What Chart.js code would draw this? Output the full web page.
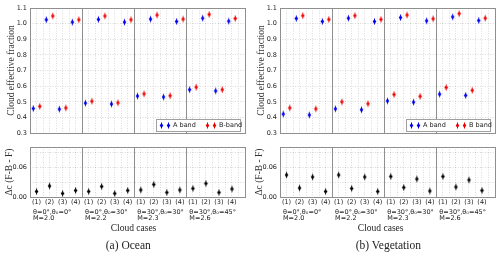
<!DOCTYPE html>
<html><head><meta charset="utf-8">
<script src="https://cdn.jsdelivr.net/npm/chart.js@4"></script>
<style>
html,body{margin:0;padding:0;background:#fff;width:500px;height:258px;overflow:hidden}
.panel{position:absolute;top:0;width:250px;height:258px}
.panel canvas{position:absolute;left:0}
.lbl{position:absolute;font-family:'Liberation Serif',serif;color:#222;white-space:nowrap;transform:translate(-50%,-50%);line-height:1}
</style></head><body>
<div class="panel" id="pa" style="left:0"><canvas id="ta" width="250" height="140" style="top:0"></canvas><canvas id="ba" width="250" height="90" style="top:140px"></canvas></div>
<div class="panel" id="pb" style="left:250px"><canvas id="tb" width="250" height="140" style="top:0"></canvas><canvas id="bb" width="250" height="90" style="top:140px"></canvas></div>
<script>
// ---------- data ----------
const caseLabels = ['(1)','(2)','(3)','(4)'];
const groupAngles = ['θ=0°,θ₀=0°','θ=0°,θ₀=30°','θ=30°,θ₀=30°','θ=30°,θ₀=45°'];
const groupM = ['M=2.0','M=2.2','M=2.3','M=2.6'];
const oceanNames = ['A band','B-band'];
const vegNames = ['A band','B band'];
const oceanA = [0.457,1.025,0.453,1.010, 0.492,1.027,0.486,1.010, 0.537,1.029,0.531,1.014, 0.578,1.035,0.570,1.016];
const oceanB = [0.471,1.049,0.461,1.025, 0.504,1.049,0.494,1.025, 0.551,1.055,0.539,1.029, 0.594,1.059,0.578,1.033];
const oceanDiff = [0.011,0.022,0.007,0.013, 0.011,0.021,0.007,0.013, 0.014,0.025,0.009,0.014, 0.017,0.027,0.009,0.016];
const vegA = [0.422,1.033,0.416,1.014, 0.455,1.035,0.449,1.014, 0.506,1.039,0.498,1.018, 0.549,1.043,0.541,1.020];
const vegB = [0.461,1.051,0.455,1.027, 0.500,1.051,0.488,1.027, 0.547,1.055,0.535,1.031, 0.592,1.064,0.574,1.035];
const vegDiff = [0.044,0.018,0.040,0.011, 0.044,0.017,0.040,0.011, 0.041,0.019,0.036,0.012, 0.041,0.020,0.034,0.013];
const topRange = [0.3, 1.1];
const diffRange = [0, 0.1];
const diffLabelMax = 0.08;

// ---------- styling helpers ----------
const nGroups = groupAngles.length, perGroup = caseLabels.length, nCases = nGroups*perGroup;
const SANS = '"DejaVu Sans", sans-serif', SERIF = '"Liberation Serif", serif';
const FRAME = '#8f8f8f', GRID = 'rgba(0,0,0,0.14)';
function marker(color){
  const c = document.createElement('canvas'); c.width = 7; c.height = 11;
  const g = c.getContext('2d');
  g.strokeStyle = color; g.lineWidth = 1;
  g.beginPath(); g.moveTo(3.5, 2.5); g.lineTo(3.5, 8.5); g.stroke();
  g.fillStyle = color; g.beginPath();
  g.moveTo(3.5, 3); g.lineTo(5.3, 5.5); g.lineTo(3.5, 8); g.lineTo(1.7, 5.5); g.closePath(); g.fill();
  return c;
}
const mBlue = marker('#0000ee'), mRed = marker('#ee0000'), mBlack = marker('#000000');

const framePlugin = {
  id:'frame',
  beforeDatasetsDraw(chart){
    const {ctx, chartArea:a, scales:{x}} = chart;
    ctx.save(); ctx.strokeStyle = FRAME; ctx.lineWidth = 1;
    for (let g = 1; g < nGroups; g++){
      const px = Math.round(x.getPixelForValue(g*perGroup - 0.5)) + 0.5;
      ctx.beginPath(); ctx.moveTo(px, a.top); ctx.lineTo(px, a.bottom); ctx.stroke();
    }
    ctx.strokeRect(Math.round(a.left)+0.5, Math.round(a.top)+0.5, Math.round(a.right-a.left), Math.round(a.bottom-a.top));
    ctx.restore();
  }
};
const legendPlugin = {
  id:'boxLegend',
  afterDatasetsDraw(chart){
    const {ctx, chartArea:a} = chart;
    const bx = a.left + 126, by = a.top + 111, bw = 84, bh = 12;
    ctx.save();
    ctx.fillStyle = '#fff'; ctx.fillRect(bx, by, bw, bh);
    ctx.strokeStyle = '#a0a0a0'; ctx.lineWidth = 1; ctx.strokeRect(bx+0.5, by+0.5, bw, bh);
    const cy = by + bh/2 + 0.5;
    chart.data.datasets.forEach((ds, k) => {
      const ix = bx + 5 + k*46, img = ds.pointStyle;
      ctx.drawImage(img, Math.round(ix - img.width/2), Math.round(cy - img.height/2));
      ctx.drawImage(img, Math.round(ix + 7 - img.width/2), Math.round(cy - img.height/2));
      ctx.fillStyle = '#222'; ctx.font = '6.5px ' + SANS; ctx.textBaseline = 'middle'; ctx.textAlign = 'left';
      ctx.fillText(ds.label, ix + 12, cy);
    });
    ctx.restore();
  }
};
const groupLabelPlugin = {
  id:'groupLabels',
  afterDraw(chart){
    const {ctx, scales:{x}} = chart;
    ctx.save(); ctx.fillStyle = '#222'; ctx.font = '6.5px ' + SANS; ctx.textBaseline = 'middle'; ctx.textAlign = 'left';
    for (let g = 0; g < nGroups; g++){
      const px = x.getPixelForValue(g*perGroup - 0.5) + 3;
      ctx.fillText(groupAngles[g], px, 72);
      ctx.fillText(groupM[g], px, 78.5);
    }
    ctx.restore();
  }
};

function xScale(showLabels){
  return {
    type:'linear', min:-0.5, max:nCases, offset:false,
    afterFit(s){ s.height = showLabels ? 33 : 0; },
    ticks:{ display:showLabels, stepSize:0.5, maxTicksLimit:200, autoSkip:false, maxRotation:0, padding:1,
      font:{family:SANS, size:6.5}, color:'#222',
      callback:(v)=> (Number.isInteger(v) && v >= 0 && v < nCases) ? caseLabels[v % perGroup] : '' },
    grid:{ drawTicks:false, color:GRID, lineWidth:1 },
    border:{ display:false, dash:[1,1.5] }
  };
}

function makePanel(sfx, A, B, diff, names, caption, capX, casesX){
  new Chart(document.getElementById('t'+sfx), {
    type:'scatter',
    data:{ datasets:[
      { label:names[0], data:A.map((v,i)=>({x:i-0.25, y:v})), pointStyle:mBlue, pointRadius:4, backgroundColor:'#0000ee', borderColor:'#0000ee' },
      { label:names[1], data:B.map((v,i)=>({x:i+0.25, y:v})), pointStyle:mRed, pointRadius:4, backgroundColor:'#ee0000', borderColor:'#ee0000' }
    ]},
    options:{
      responsive:false, animation:false, devicePixelRatio:1,
      layout:{ padding:{ left:0, right:5, top:8, bottom:2 } },
      plugins:{ legend:{display:false}, tooltip:{enabled:false} },
      scales:{
        x: xScale(false),
        y:{ min:topRange[0], max:topRange[1],
          afterFit(s){ s.width = 30; },
          ticks:{ stepSize:0.1, padding:3, font:{family:SANS, size:6.5}, color:'#222', callback:(v)=>v.toFixed(1) },
          grid:{ drawTicks:false, color:GRID },
          border:{ display:false, dash:[1,1.5] },
          title:{ display:true, text:'Cloud effective fraction', font:{family:SERIF, size:9.5}, color:'#333', padding:{top:6, bottom:0} } }
      }
    },
    plugins:[framePlugin, legendPlugin]
  });
  new Chart(document.getElementById('b'+sfx), {
    type:'scatter',
    data:{ datasets:[
      { label:'diff', data:diff.map((v,i)=>({x:i, y:v})), pointStyle:mBlack, pointRadius:4, backgroundColor:'#000', borderColor:'#000' }
    ]},
    options:{
      responsive:false, animation:false, devicePixelRatio:1,
      layout:{ padding:{ left:0, right:5, top:7, bottom:0 } },
      plugins:{ legend:{display:false}, tooltip:{enabled:false} },
      scales:{
        x: xScale(true),
        y:{ min:diffRange[0], max:diffRange[1],
          afterFit(s){ s.width = 30; },
          ticks:{ stepSize:0.01, maxTicksLimit:50, padding:3, font:{family:SANS, size:6.5}, color:'#222',
            callback:(v)=>{ const k = Math.round(v*100); return (k % 2 === 0 && v <= diffLabelMax + 1e-9) ? v.toFixed(2) : ''; } },
          grid:{ drawTicks:false, color:GRID },
          border:{ display:false, dash:[1,1.5] },
          title:{ display:true, text:'Δc (F-B - F)', font:{family:SERIF, size:9.5}, color:'#333', padding:{top:4, bottom:0} } }
      }
    },
    plugins:[framePlugin, groupLabelPlugin]
  });
  const p = document.getElementById('p'+sfx);
  const c1 = document.createElement('div'); c1.className = 'lbl'; c1.style.left = casesX+'px'; c1.style.top = '229px'; c1.style.fontSize = '9.5px'; c1.textContent = 'Cloud cases'; p.appendChild(c1);
  const c2 = document.createElement('div'); c2.className = 'lbl'; c2.style.left = capX+'px'; c2.style.top = '245.5px'; c2.style.fontSize = '11.5px'; c2.textContent = caption; p.appendChild(c2);
}
makePanel('a', oceanA, oceanB, oceanDiff, oceanNames, '(a) Ocean', 128.3, 133.5);
makePanel('b', vegA, vegB, vegDiff, vegNames, '(b) Vegetation', 138.3, 130.7);
</script>
</body></html>
